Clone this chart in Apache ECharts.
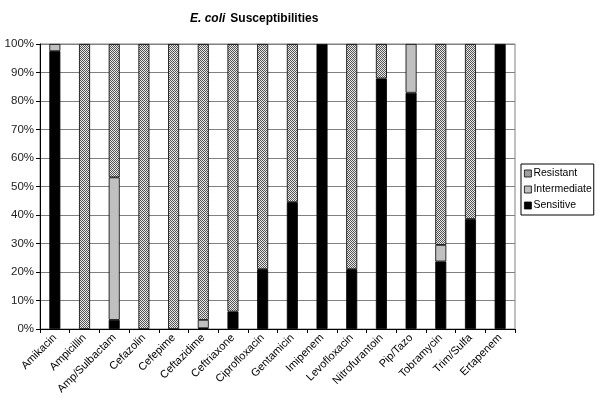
<!DOCTYPE html>
<html>
<head>
<meta charset="utf-8">
<script src="https://cdn.jsdelivr.net/npm/echarts@6/dist/echarts.min.js"></script>
<style>
  html, body { margin: 0; padding: 0; background: #fff; }
  #chart { width: 600px; height: 404px; }
</style>
</head>
<body>
<div id="chart"></div>
<script>
// categories and stacked percentages
const drugs = ['Amikacin', 'Ampicillin', 'Amp/Sulbactam', 'Cefazolin', 'Cefepime', 'Ceftazidime',
    'Ceftriaxone', 'Ciprofloxacin', 'Gentamicin', 'Imipenem', 'Levofloxacin', 'Nitrofurantoin',
    'Pip/Tazo', 'Tobramycin', 'Trim/Sulfa', 'Ertapenem'];
const sensitive    = [97.5, 0, 3.2, 0, 0, 0.3, 6.1, 21, 44.5, 100, 21, 87.9, 82.9, 23.7, 38.6, 100];
const intermediate = [2.5, 0, 50, 0, 0, 2.9, 0, 0, 0, 0, 0, 0, 17.1, 5.8, 0, 0];
const resistant    = [0, 100, 46.8, 100, 100, 96.8, 93.9, 79, 55.5, 0, 79, 12.1, 0, 70.5, 61.4, 0];
const yTicks = [0, 10, 20, 30, 40, 50, 60, 70, 80, 90, 100];

// hatch pattern for resistant
const makeHatch = () => {
    const c = document.createElement('canvas');
    c.width = 4; c.height = 4;
    const ctx = c.getContext('2d');
    ctx.fillStyle = '#e8e8e8';
    ctx.fillRect(0, 0, 4, 4);
    ctx.fillStyle = '#555';
    for (let i = 0; i < 4; i++) {
        ctx.fillRect(i, i, 1, 1);
        ctx.fillRect((i + 2) % 4, i, 1, 1);
    }
    return c;
};
const hatch = makeHatch();

const chart = echarts.init(document.getElementById('chart'));
const barStyle = (fill) => ({ color: fill, borderColor: '#000', borderWidth: 0.8 });
// zero parts are left out so no stray border lines show
const noZero = (arr) => arr.map(v => v === 0 ? '-' : v);
const font = 'Arial, "Liberation Sans", sans-serif';

chart.setOption({
    animation: false,
    textStyle: { fontFamily: font },
    title: {
        text: '{i|E. coli} {b|Susceptibilities}',
        left: 185,
        top: 5,
        textStyle: {
            rich: {
                i: { fontSize: 12, fontWeight: 'bold', fontStyle: 'italic', color: '#000', fontFamily: font },
                b: { fontSize: 12, fontWeight: 'bold', color: '#000', fontFamily: font }
            }
        }
    },
    legend: {
        orient: 'vertical',
        left: 521,
        top: 164,
        data: ['Resistant', 'Intermediate', 'Sensitive'],
        itemWidth: 7,
        itemHeight: 7,
        itemGap: 5,
        padding: [4, 2, 4, 3],
        borderColor: '#000',
        borderWidth: 1,
        icon: 'rect',
        itemStyle: { borderColor: '#000', borderWidth: 0.8 },
        textStyle: { fontSize: 10.5, color: '#000', padding: [0, 0, 0, -3] }
    },
    grid: {
        left: 40, right: 85, top: 44, bottom: 75,
        show: true, borderColor: '#808080', borderWidth: 1
    },
    xAxis: {
        type: 'category',
        data: drugs,
        axisLine: { lineStyle: { color: '#000' } },
        axisTick: { show: true, interval: 0, length: 4, lineStyle: { color: '#000' } },
        axisLabel: { interval: 0, rotate: 45, fontSize: 11, color: '#000', margin: 7 }
    },
    yAxis: {
        type: 'value',
        min: yTicks[0],
        max: yTicks[yTicks.length - 1],
        interval: 10,
        axisLine: { show: true, lineStyle: { color: '#000' } },
        axisTick: { show: true, length: 4, lineStyle: { color: '#000' } },
        axisLabel: { formatter: '{value}%', fontSize: 11.5, color: '#222', margin: 6 },
        splitLine: { lineStyle: { color: '#808080', width: 1 } }
    },
    series: [
        { name: 'Sensitive', type: 'bar', stack: 'all', barWidth: 11, data: noZero(sensitive), itemStyle: barStyle('#000') },
        { name: 'Intermediate', type: 'bar', stack: 'all', barWidth: 11, data: noZero(intermediate), itemStyle: barStyle('#c0c0c0') },
        { name: 'Resistant', type: 'bar', stack: 'all', barWidth: 11, data: noZero(resistant),
          itemStyle: barStyle({ image: hatch, repeat: 'repeat' }) }
    ]
});
</script>
</body>
</html>
